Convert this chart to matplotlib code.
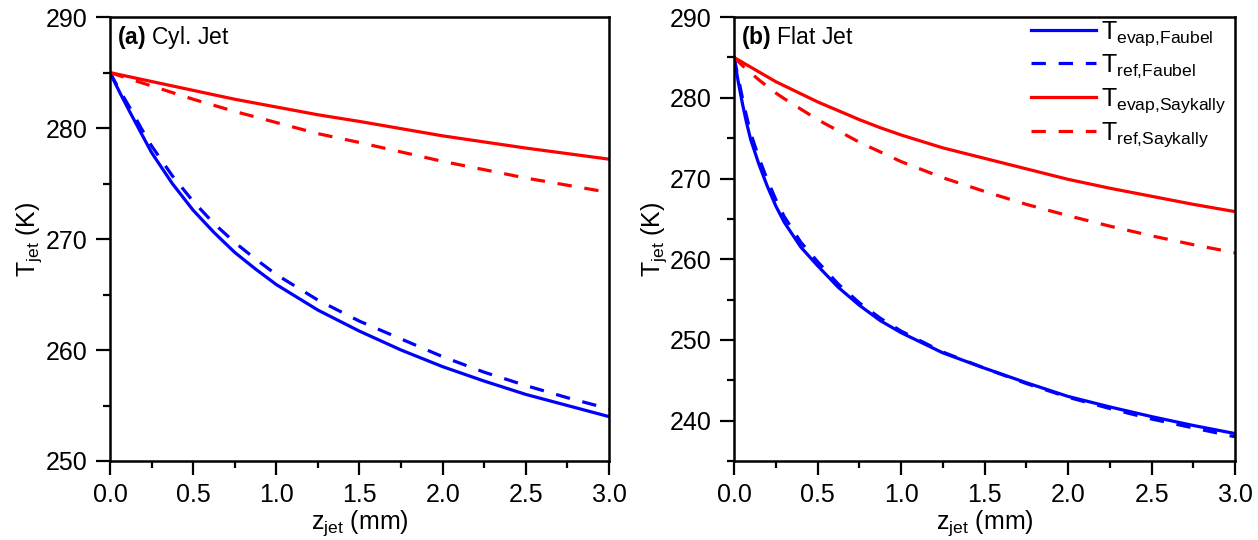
import numpy as np
import matplotlib.pyplot as plt
from matplotlib.ticker import MultipleLocator

plt.rcParams['font.family'] = ['Liberation Sans', 'DejaVu Sans']
plt.rcParams['mathtext.fontset'] = 'custom'
plt.rcParams['mathtext.rm'] = 'Liberation Sans'
plt.rcParams['mathtext.bf'] = 'Liberation Sans:bold'
plt.rcParams['mathtext.default'] = 'regular'

# (a) цилиндрическая струя
z_cyl = [0, 0.0625, 0.125, 0.1875, 0.25, 0.375, 0.5, 0.625, 0.75, 0.875,
         1.0, 1.25, 1.5, 1.75, 2.0, 2.25, 2.5, 2.75, 3.0]
T_evap_faubel_cyl = [285, 283.1, 281.3, 279.55, 277.8, 275.0, 272.6, 270.6, 268.8, 267.3,
                     265.9, 263.6, 261.7, 260.0, 258.5, 257.2, 256.0, 255.0, 254.0]
T_ref_faubel_cyl = [285, 283.3, 281.7, 280.0, 278.4, 275.7, 273.4, 271.4, 269.7, 268.2,
                    266.8, 264.5, 262.6, 261.0, 259.4, 258.0, 256.8, 255.7, 254.7]
T_evap_saykally_cyl = [285, 284.8, 284.6, 284.4, 284.2, 283.8, 283.4, 283.0, 282.6, 282.25,
                       281.9, 281.2, 280.6, 279.95, 279.3, 278.75, 278.2, 277.7, 277.2]
T_ref_saykally_cyl = [285, 284.7, 284.4, 284.1, 283.8, 283.2, 282.6, 282.05, 281.5, 281.0,
                      280.5, 279.5, 278.7, 277.85, 277.0, 276.25, 275.5, 274.85, 274.2]

# (b) плоская струя
z_flat = [0, 0.025, 0.05, 0.075, 0.1, 0.15, 0.2, 0.25, 0.3, 0.4, 0.5, 0.625,
          0.75, 0.875, 1.0, 1.25, 1.5, 1.75, 2.0, 2.25, 2.5, 2.75, 3.0]
T_evap_faubel_flat = [285, 282.0, 279.3, 276.9, 274.8, 271.7, 269.0, 266.6, 264.6, 261.5, 259.2, 256.5,
                      254.3, 252.4, 250.9, 248.4, 246.5, 244.7, 243.0, 241.7, 240.5, 239.4, 238.4]
T_ref_faubel_flat = [285, 282.5, 280.0, 277.7, 275.6, 272.5, 269.8, 267.4, 265.3, 262.1, 259.7, 256.9,
                     254.6, 252.7, 251.1, 248.5, 246.5, 244.6, 242.9, 241.5, 240.2, 239.1, 238.0]
T_evap_saykally_flat = [285, 284.7, 284.4, 284.1, 283.8, 283.2, 282.6, 282.0, 281.5, 280.5, 279.5, 278.4,
                        277.3, 276.3, 275.4, 273.8, 272.5, 271.2, 269.9, 268.8, 267.8, 266.8, 265.9]
T_ref_saykally_flat = [285, 284.5, 284.0, 283.5, 283.1, 282.2, 281.4, 280.6, 279.9, 278.6, 277.3, 275.9,
                       274.5, 273.3, 272.1, 270.1, 268.4, 266.8, 265.4, 264.1, 262.9, 261.8, 260.8]

labels = [r'T$_{evap{,}Faubel}$', r'T$_{ref{,}Faubel}$',
          r'T$_{evap{,}Saykally}$', r'T$_{ref{,}Saykally}$']
dash = (0, (4.5, 4))

fig = plt.figure(figsize=(12.58, 5.4), dpi=100)
ax1 = fig.add_axes([0.0874, 0.1463, 0.3967, 0.822])
ax2 = fig.add_axes([0.5835, 0.1463, 0.3983, 0.822])


def draw(ax, z, curves, ylim, title):
    styles = [('blue', '-'), ('blue', dash), ('red', '-'), ('red', dash)]
    for (c, ls), T, lab in zip(styles, curves, labels):
        ax.plot(z, T, color=c, linestyle=ls, lw=2.3, label=lab)
    ax.set_xlim(0, 3)
    ax.set_ylim(*ylim)
    ax.xaxis.set_major_locator(MultipleLocator(0.5))
    ax.xaxis.set_minor_locator(MultipleLocator(0.25))
    ax.yaxis.set_major_locator(MultipleLocator(10))
    ax.yaxis.set_minor_locator(MultipleLocator(5))
    ax.tick_params(which='both', direction='out', top=False, right=False,
                   width=1.6, labelsize=18)
    ax.tick_params(which='major', length=10, pad=6)
    ax.tick_params(which='minor', length=5)
    for s in ax.spines.values():
        s.set_linewidth(1.8)
    ax.set_xlabel(r'z$_{jet}$ (mm)', fontsize=18, labelpad=1)
    ax.set_ylabel(r'T$_{jet}$ (K)', fontsize=18, labelpad=1)
    ax.text(0.014, 0.985, title, transform=ax.transAxes, fontsize=16.5,
            va='top', ha='left')


draw(ax1, z_cyl, [T_evap_faubel_cyl, T_ref_faubel_cyl,
                  T_evap_saykally_cyl, T_ref_saykally_cyl],
     (250, 290), r'$\bf{(a)}$ Cyl. Jet')
draw(ax2, z_flat, [T_evap_faubel_flat, T_ref_faubel_flat,
                   T_evap_saykally_flat, T_ref_saykally_flat],
     (235, 290), r'$\bf{(b)}$ Flat Jet')

ax2.legend(loc='upper right', bbox_to_anchor=(1.012, 1.03), frameon=False,
           fontsize=18, handlelength=2.6, handletextpad=0.2,
           labelspacing=0.22, borderaxespad=0.2)

plt.savefig('out.png', dpi=100)
